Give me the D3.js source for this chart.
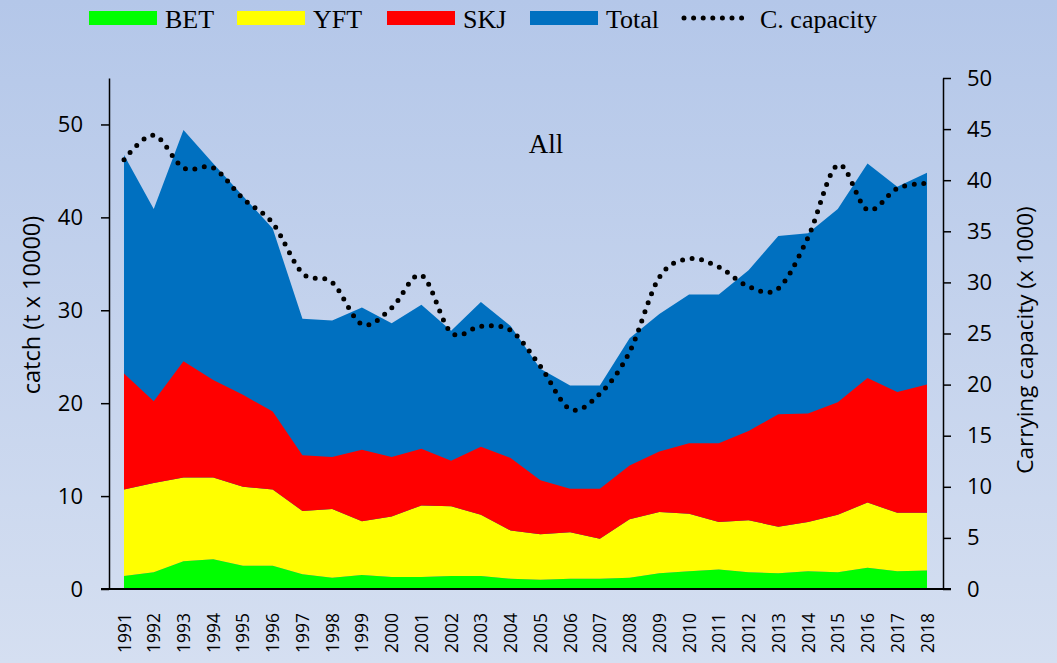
<!DOCTYPE html>
<html>
<head>
<meta charset="utf-8">
<script src="https://cdn.jsdelivr.net/npm/d3@7"></script>
<style>
  body { margin: 0; padding: 0; }
  svg { display: block; }
</style>
</head>
<body>
<script>
// Catch by species (t x 10000) and carrying capacity (x 1000)

var years = [1991, 1992, 1993, 1994, 1995, 1996, 1997, 1998, 1999, 2000,
    2001, 2002, 2003, 2004, 2005, 2006, 2007, 2008, 2009, 2010,
    2011, 2012, 2013, 2014, 2015, 2016, 2017, 2018];

var bet = [1.4, 1.8, 3.0, 3.2, 2.5, 2.5, 1.6, 1.2, 1.5, 1.3,
    1.3, 1.4, 1.4, 1.1, 1.0, 1.1, 1.1, 1.2, 1.7, 1.9,
    2.1, 1.8, 1.7, 1.9, 1.8, 2.3, 1.9, 2.0];

var yft = [9.3, 9.6, 9.0, 8.8, 8.5, 8.2, 6.8, 7.4, 5.8, 6.5,
    7.7, 7.5, 6.6, 5.2, 4.9, 5.0, 4.3, 6.3, 6.6, 6.2,
    5.1, 5.6, 5.0, 5.3, 6.2, 7.0, 6.3, 6.2];

var skj = [12.5, 8.8, 12.5, 10.5, 9.9, 8.4, 6.0, 5.6, 7.7, 6.4,
    6.1, 4.9, 7.3, 7.8, 5.8, 4.7, 5.4, 5.8, 6.5, 7.6,
    8.5, 9.6, 12.1, 11.7, 12.1, 13.4, 13.0, 13.8];

var total = [46.7, 40.9, 49.4, 45.8, 42.3, 38.8, 29.1, 28.9, 30.3, 28.6,
    30.6, 27.8, 30.9, 28.3, 23.7, 21.9, 21.9, 27.0, 29.6, 31.7,
    31.7, 34.3, 38.0, 38.3, 40.9, 45.8, 43.3, 44.8];

var capacity = [42.0, 44.4, 41.2, 41.2, 38.2, 35.8, 30.9, 30.0, 25.9, 27.5,
    30.7, 25.1, 25.7, 25.3, 21.8, 17.6, 19.1, 23.2, 30.5, 32.3,
    31.5, 29.6, 29.4, 34.4, 41.5, 37.1, 39.2, 39.7];

var leftTicks = [0, 10, 20, 30, 40, 50];
var rightTicks = [0, 5, 10, 15, 20, 25, 30, 35, 40, 45, 50];

var legendItems = ["BET", "YFT", "SKJ", "Total", "C. capacity"];
var colors = { BET: "#00ff00", YFT: "#ffff00", SKJ: "#ff0000", Total: "#0070c0" };

// Setup
var w = 1057;
var h = 663;
var plotLeft = 109, plotRight = 943, plotTop = 78, plotBottom = 589;

var svg = d3.select("body").append("svg")
    .attr("width", w)
    .attr("height", h);

var grad = svg.append("defs").append("linearGradient")
    .attr("id", "bg")
    .attr("x1", 0).attr("y1", 0).attr("x2", 0).attr("y2", 1);
grad.append("stop").attr("offset", "0%").attr("stop-color", "#b4c7e9");
grad.append("stop").attr("offset", "100%").attr("stop-color", "#d5dff1");

svg.append("rect")
    .attr("width", w)
    .attr("height", h)
    .attr("fill", "url(#bg)");

// Scales
var x = d3.scaleLinear().domain([1991, 2018]).range([124, 927]);
var yLeft = d3.scaleLinear().domain([0, 55]).range([plotBottom, plotTop]);
var yRight = d3.scaleLinear().domain([0, 50]).range([plotBottom, plotTop]);

var rows = years.map(function(yr, i) {
    return { year: yr, BET: bet[i], YFT: yft[i], SKJ: skj[i], Total: total[i], cap: capacity[i] };
});

// Total area drawn behind the stacked species
var totalArea = d3.area()
    .x(function(d) { return x(d.year); })
    .y0(yLeft(0))
    .y1(function(d) { return yLeft(d.Total); });

svg.append("path")
    .datum(rows)
    .attr("d", totalArea)
    .attr("fill", colors.Total);

var stack = d3.stack().keys(["BET", "YFT", "SKJ"]);
var layers = stack(rows);

var stackArea = d3.area()
    .x(function(d) { return x(d.data.year); })
    .y0(function(d) { return yLeft(d[0]); })
    .y1(function(d) { return yLeft(d[1]); });

svg.selectAll(".layer")
    .data(layers)
    .enter()
    .append("path")
    .attr("class", "layer")
    .attr("d", stackArea)
    .attr("fill", function(d) { return colors[d.key]; });

// Carrying capacity dotted smooth line
var capLine = d3.line()
    .x(function(d) { return x(d.year); })
    .y(function(d) { return yRight(d.cap); })
    .curve(d3.curveCardinal.tension(0));

svg.append("path")
    .datum(rows)
    .attr("d", capLine)
    .attr("fill", "none")
    .attr("stroke", "#000")
    .attr("stroke-width", 5)
    .attr("stroke-linecap", "round")
    .attr("stroke-dasharray", "0,9.6");

// Axes
var axisFont = "'Open Sans', 'Noto Sans', sans-serif";

var gLeft = svg.append("g")
    .attr("transform", "translate(" + plotLeft + ",0)")
    .call(d3.axisLeft(yLeft).tickValues(leftTicks).tickSize(8).tickSizeOuter(0).tickPadding(18));

var gRight = svg.append("g")
    .attr("transform", "translate(" + plotRight + ",0)")
    .call(d3.axisRight(yRight).tickValues(rightTicks).tickSize(8).tickSizeOuter(0).tickPadding(16));

[gLeft, gRight].forEach(function(g) {
    g.selectAll("path, line").attr("stroke", "#000").attr("stroke-width", 1.5);
    g.selectAll("text")
        .attr("font-family", axisFont)
        .attr("font-size", 22)
        .attr("fill", "#000");
});

svg.append("line")
    .attr("x1", plotLeft - 8).attr("x2", plotRight + 8)
    .attr("y1", plotBottom).attr("y2", plotBottom)
    .attr("stroke", "#000")
    .attr("stroke-width", 2);

// Year labels
svg.selectAll(".year")
    .data(years)
    .enter()
    .append("text")
    .attr("class", "year")
    .attr("transform", function(d) { return "translate(" + (x(d) + 6.5) + ",613) rotate(-90)"; })
    .attr("text-anchor", "end")
    .attr("font-family", axisFont)
    .attr("font-size", 17.5)
    .text(function(d) { return d; });

// Axis titles
svg.append("text")
    .attr("transform", "translate(40,305) rotate(-90)")
    .attr("text-anchor", "middle")
    .attr("font-family", axisFont)
    .attr("font-size", 23.5)
    .text("catch (t x 10000)");

svg.append("text")
    .attr("transform", "translate(1033,340) rotate(-90)")
    .attr("text-anchor", "middle")
    .attr("font-family", axisFont)
    .attr("font-size", 22.5)
    .text("Carrying capacity (x 1000)");

svg.append("text")
    .attr("x", 546)
    .attr("y", 153)
    .attr("text-anchor", "middle")
    .attr("font-family", "'Liberation Serif', serif")
    .attr("font-size", 27)
    .text("All");

// Legend
var legendX = [89, 237, 387, 530, 682];

var legend = svg.selectAll(".legend")
    .data(legendItems)
    .enter()
    .append("g")
    .attr("class", "legend")
    .attr("transform", function(d, i) { return "translate(" + legendX[i] + ",0)"; });

legend.filter(function(d) { return d !== "C. capacity"; })
    .append("rect")
    .attr("x", 0)
    .attr("y", 11)
    .attr("width", 68)
    .attr("height", 14)
    .attr("fill", function(d) { return colors[d]; });

legend.filter(function(d) { return d === "C. capacity"; })
    .append("line")
    .attr("x1", 2).attr("x2", 66)
    .attr("y1", 18).attr("y2", 18)
    .attr("stroke", "#000")
    .attr("stroke-width", 5)
    .attr("stroke-linecap", "round")
    .attr("stroke-dasharray", "0,9.6");

legend.append("text")
    .attr("x", function(d) { return d === "C. capacity" ? 78 : 76; })
    .attr("y", 28)
    .attr("font-family", "'Liberation Serif', serif")
    .attr("font-size", 26)
    .text(function(d) { return d; });
</script>
</body>
</html>
